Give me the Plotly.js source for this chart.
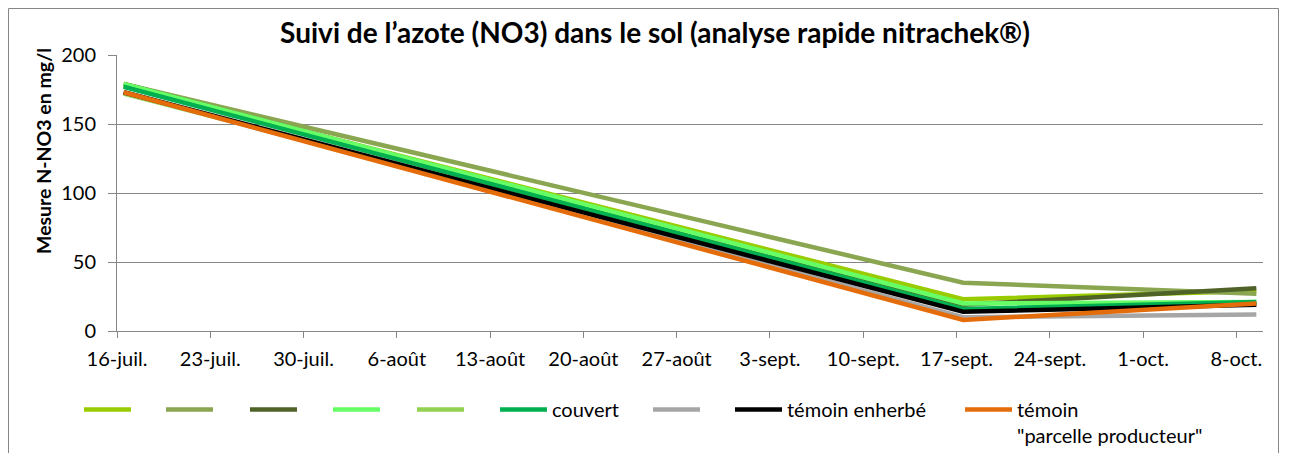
<!DOCTYPE html>
<html>
<head>
<meta charset="utf-8">
<script src="https://cdn.plot.ly/plotly-3.0.1.min.js"></script>
<style>html,body{margin:0;padding:0;background:#fff;}#chart{width:1290px;height:453px;}</style>
</head>
<body>
<div id="chart"></div>
<script>
// ---- data ----
const dates = ['2013-07-16', '2013-09-17', '2013-10-09'];
const seriesNames = ['', '', '', '', '', 'couvert', '', 'témoin enherbé', 'témoin<br>"parcelle producteur"'];
const seriesColors = ['#99CC00', '#8AA650', '#4F6228', '#66FF66', '#92D050', '#00B050', '#A6A6A6', '#000000', '#E46C0A'];
const s1 = [178, 23, 29];
const s2 = [179, 35, 27];
const s3 = [179, 19, 31];
const s4 = [179, 20, 21];
const s5 = [172, 15, 20];
const s6 = [177, 16, 21];
const s7 = [173, 10, 12];
const s8 = [173, 14, 19];
const s9 = [173, 8, 20];
const seriesValues = [s1, s2, s3, s4, s5, s6, s7, s8, s9];
const tickDates = ['2013-07-16','2013-07-23','2013-07-30','2013-08-06','2013-08-13','2013-08-20','2013-08-27','2013-09-03','2013-09-10','2013-09-17','2013-09-24','2013-10-01','2013-10-08'];
const tickLabels = ['16-juil.','23-juil.','30-juil.','6-août','13-août','20-août','27-août','3-sept.','10-sept.','17-sept.','24-sept.','1-oct.','8-oct.'];

// ---- layout geometry (pixels) ----
const W = 1290, H = 453;
const L = 117, R = 1263, T = 55, B = 331;
const pw = R - L, ph = B - T;
const px2x = p => (p - L) / pw;
const py2y = p => (B - p) / ph;
const FONT = 'Lato, "Open Sans", sans-serif';
const GRID = '#868686';

// Excel "between tick marks": each day's point sits at mid-day
const xMid = dates.map(d => d + ' 12:00');

const legendLeft = [84, 166, 250, 333, 417, 500, 653, 735, 965];
const traces = seriesValues.map((v, i) => ({
  type: 'scatter', mode: 'lines', x: xMid, y: v,
  name: seriesNames[i],
  line: {color: seriesColors[i], width: 4.5},
  legend: i === 0 ? 'legend' : 'legend' + (i + 1),
  hoverinfo: 'x+y'
}));

const layout = {
  width: W, height: H,
  margin: {l: L, r: W - R, t: T, b: H - B, pad: 0, autoexpand: false},
  paper_bgcolor: '#fff', plot_bgcolor: '#fff',
  font: {family: FONT, size: 20, color: '#000'},
  title: {text: 'Suivi de l’azote (NO3) dans le sol (analyse rapide nitrachek®)',
          font: {family: FONT, size: 28, color: '#000', weight: 'bold'},
          x: 655 / W, xref: 'container', xanchor: 'center',
          y: 1 - 33 / H, yref: 'container', yanchor: 'middle'},
  xaxis: {type: 'date', range: ['2013-07-16', '2013-10-10'],
          tickmode: 'array', tickvals: tickDates, ticktext: tickLabels,
          showgrid: false, zeroline: false,
          showline: true, linecolor: GRID, linewidth: 1,
          ticks: 'outside', ticklen: 6, tickcolor: GRID, tickwidth: 1,
          ticklabelstandoff: 4,
          tickfont: {family: FONT, size: 20, color: '#000'}},
  yaxis: {range: [0, 200], tickmode: 'linear', tick0: 0, dtick: 50,
          showgrid: true, gridcolor: GRID, gridwidth: 1, zeroline: false,
          showline: true, linecolor: GRID, linewidth: 1,
          ticks: 'outside', ticklen: 8, tickcolor: GRID, tickwidth: 1,
          ticklabelstandoff: 8,
          tickfont: {family: FONT, size: 20, color: '#000'}},
  annotations: [{
    text: '<b>Mesure N-NO3 en mg/l</b>', textangle: -90,
    xref: 'paper', yref: 'paper', x: px2x(43), y: py2y(151),
    xanchor: 'center', yanchor: 'middle', showarrow: false,
    font: {family: FONT, size: 19.5, color: '#000'}
  }],
  shapes: [{
    type: 'rect', xref: 'paper', yref: 'paper',
    x0: px2x(8.5), x1: px2x(1278.5), y0: py2y(470), y1: py2y(8.5),
    line: {color: GRID, width: 1}, fillcolor: 'rgba(0,0,0,0)', layer: 'below'
  }],
  showlegend: true
};
legendLeft.forEach((p, i) => {
  const key = i === 0 ? 'legend' : 'legend' + (i + 1);
  layout[key] = {
    x: px2x(p - 5), xanchor: 'left', xref: 'paper',
    y: py2y(390), yanchor: 'top', yref: 'paper',
    orientation: 'h', bgcolor: 'rgba(0,0,0,0)', borderwidth: 0,
    itemwidth: 47, tracegroupgap: 0, valign: 'top',
    font: {family: FONT, size: 20, color: '#000'}
  };
});

Plotly.newPlot('chart', traces, layout, {displayModeBar: false, staticPlot: true});
</script>
</body>
</html>
